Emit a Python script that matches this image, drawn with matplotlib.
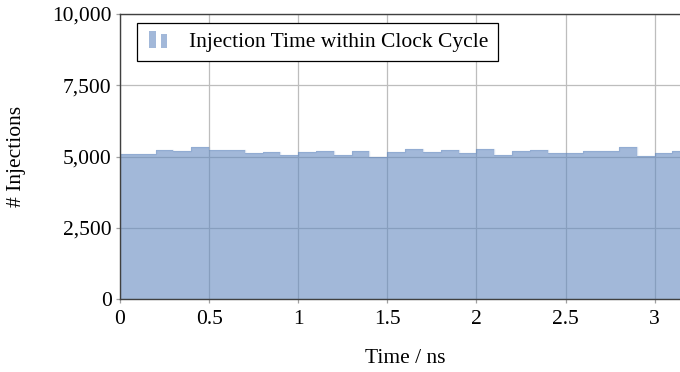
import matplotlib
matplotlib.use("Agg")
import matplotlib.pyplot as plt
import numpy as np
from matplotlib.legend_handler import HandlerBase
from matplotlib.patches import Rectangle
from matplotlib.ticker import FuncFormatter, MultipleLocator

plt.rcParams['font.family'] = ['Liberation Serif', 'DejaVu Serif']

# Histogram of injection times within the 3.2 ns clock cycle (0.1 ns bins)
bin_edges_ns = np.round(np.arange(0, 3.21, 0.1), 2)
counts = [5090, 5100, 5230, 5185, 5330, 5230, 5240, 5120, 5175, 5060,
          5150, 5185, 5045, 5210, 4990, 5150, 5280, 5175, 5230, 5140,
          5270, 5060, 5185, 5220, 5140, 5140, 5210, 5200, 5330, 5010,
          5115, 5200]
series_label = "Injection Time within Clock Cycle"
x_label = "Time / ns"
y_label = "# Injections"

fill_color = (100 / 255, 138 / 255, 192 / 255)
FS = 15.5

fig = plt.figure(figsize=(6.8, 3.72), dpi=100)
W, H = 680, 372
left, bottom, top = 120, 299, 14
xmax = 3.2
px_per_ns = 178.2
right = left + xmax * px_per_ns
ax = fig.add_axes([left / W, (H - bottom) / H, (right - left) / W, (bottom - top) / H])

ax.stairs(counts, bin_edges_ns, fill=True, color=fill_color, alpha=0.6,
          linewidth=0, zorder=2)
ax.stairs(counts, bin_edges_ns, fill=False, color=fill_color, alpha=0.25,
          linewidth=1.0, zorder=2.1)

ax.set_xlim(0, xmax)
ax.set_ylim(0, 10000)
ax.xaxis.set_major_locator(MultipleLocator(0.5))
ax.yaxis.set_major_locator(MultipleLocator(2500))
ax.xaxis.set_major_formatter(FuncFormatter(lambda v, p: f"{v:g}"))
ax.yaxis.set_major_formatter(FuncFormatter(lambda v, p: f"{int(v):,}"))

ax.grid(True, color='#bdbdbd', linewidth=0.9, zorder=1)
ax.set_axisbelow(True)
ax.tick_params(axis='both', direction='out', length=3, width=0.9,
               color='#a0a0a0', labelsize=FS, pad=3)
ax.tick_params(axis='x', pad=5)
for side in ('left', 'top', 'bottom'):
    ax.spines[side].set_color('#404040')
    ax.spines[side].set_linewidth(1.0)
ax.spines['right'].set_visible(False)

ax.set_xlabel(x_label, fontsize=FS, labelpad=14)
ax.set_ylabel(y_label, fontsize=FS, labelpad=19)


class TwoBarHandler(HandlerBase):
    def create_artists(self, legend, orig_handle, xdescent, ydescent,
                       width, height, fontsize, trans):
        bw = width * 0.24
        bars = [
            Rectangle((xdescent + width * 0.12, -ydescent - height * 0.05), bw, height * 1.1),
            Rectangle((xdescent + width * 0.52, -ydescent - height * 0.05), bw, height * 0.9),
        ]
        for b in bars:
            b.set_facecolor(fill_color)
            b.set_alpha(0.6)
            b.set_edgecolor('none')
            b.set_transform(trans)
        return bars


proxy = Rectangle((0, 0), 1, 1, color=fill_color)
leg = ax.legend([proxy], [series_label], handler_map={Rectangle: TwoBarHandler()},
                loc='upper left', bbox_to_anchor=(17 / (right - left), 1 - 9 / (bottom - top)),
                borderaxespad=0, fontsize=FS, frameon=True, fancybox=False,
                edgecolor='black', framealpha=1, handlelength=1.3, handletextpad=0.7,
                borderpad=0.42)
leg.get_frame().set_linewidth(0.9)

fig.savefig("out.png", dpi=100)
